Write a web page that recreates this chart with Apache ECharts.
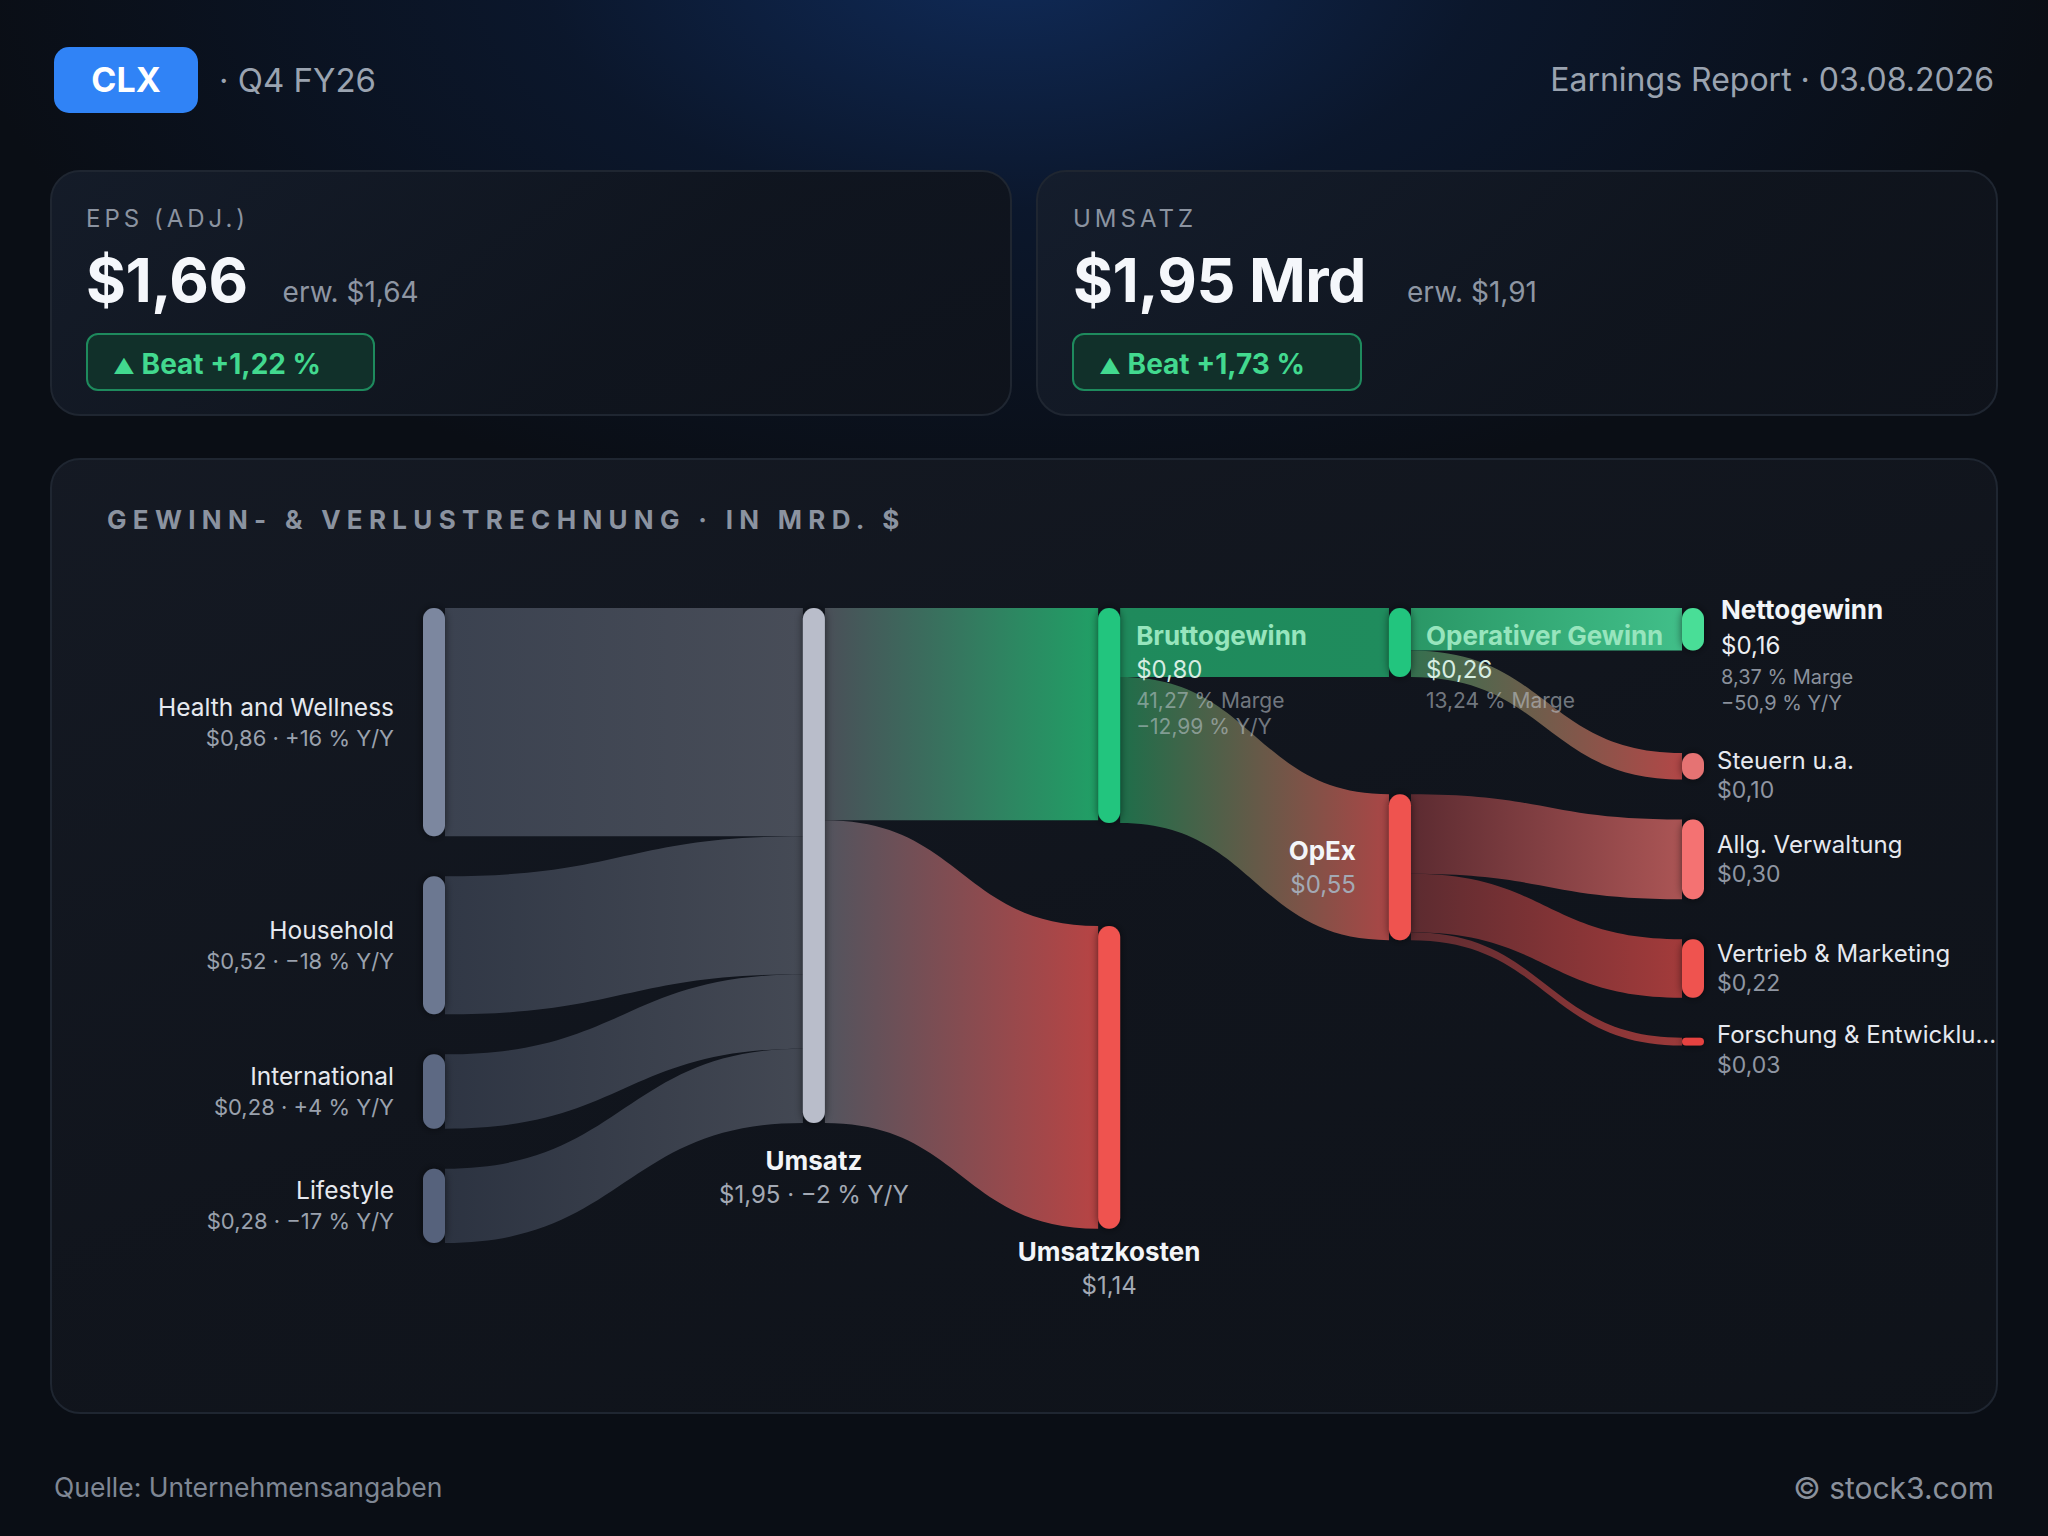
<!DOCTYPE html>
<html>
<head>
<meta charset="utf-8">
<script src="https://cdn.jsdelivr.net/npm/echarts@6/dist/echarts.min.js"></script>
<style>
  html, body { margin:0; padding:0; width:2048px; height:1536px; overflow:hidden; background:#0a0e15; }
  #page { position:relative; width:2048px; height:1536px; font-family: Inter, "Noto Sans", sans-serif;
    background: radial-gradient(ellipse 1050px 560px at 1010px -40px, rgba(16,44,92,0.95) 0%, rgba(12,30,62,0.55) 45%, rgba(10,14,21,0) 100%), #0a0e15; }
  .abs { position:absolute; line-height:1; white-space:nowrap; }
  .badge { position:absolute; left:54px; top:47px; width:144px; height:66px; border-radius:15px; background:#3083f6;
    color:#fff; font-weight:700; font-size:34px; display:flex; align-items:center; justify-content:center; line-height:1; }
  .card { position:absolute; box-sizing:border-box; border:2px solid #1f2631; border-radius:30px;
    background: linear-gradient(135deg, rgba(22,30,44,0.85) 0%, rgba(16,21,30,0.9) 60%, rgba(15,19,27,0.9) 100%); }
  .klabel { font-size:24px; letter-spacing:4px; color:#8b93a0; }
  .krow { position:absolute; display:flex; align-items:baseline; line-height:1; white-space:nowrap; }
  .kbig { font-size:61px; font-weight:700; color:#f5f7fb; letter-spacing:-0.5px; }
  .kexp { font-size:28px; color:#8e96a3; }
  .pill { position:absolute; box-sizing:border-box; height:58px; border:2px solid #1e8a5d; border-radius:12px; background:#11302a;
    color:#42d98f; font-weight:700; font-size:28px; display:flex; align-items:center; padding-left:25px; padding-top:3px; line-height:1; white-space:nowrap; }
  .tri { font-size:21px; }
  #chart { position:absolute; left:0; top:0; width:2048px; height:1536px; }
</style>
</head>
<body>
<div id="page">
  <div class="badge">CLX</div>
  <div class="abs" style="left:219px; top:64px; font-size:33px; color:#9aa3b0;">· Q4 FY26</div>
  <div class="abs" style="right:54px; top:64px; font-size:32px; color:#9aa3b0;">Earnings Report · 03.08.2026</div>

  <div class="card" style="left:50px; top:170px; width:962px; height:246px;"></div>
  <div class="abs klabel" style="left:86px; top:207px;">EPS (ADJ.)</div>
  <div class="krow" style="left:86px; top:250px;"><span class="kbig">$1,66</span><span class="kexp" style="margin-left:35px;">erw. $1,64</span></div>
  <div class="pill" style="left:86px; top:333px; width:289px;"><span><span class="tri">▲</span> Beat +1,22 %</span></div>

  <div class="card" style="left:1036px; top:170px; width:962px; height:246px;"></div>
  <div class="abs klabel" style="left:1073px; top:207px;">UMSATZ</div>
  <div class="krow" style="left:1073px; top:250px;"><span class="kbig">$1,95 Mrd</span><span class="kexp" style="margin-left:41px;">erw. $1,91</span></div>
  <div class="pill" style="left:1072px; top:333px; width:290px;"><span><span class="tri">▲</span> Beat +1,73 %</span></div>

  <div class="card" style="left:50px; top:458px; width:1948px; height:956px; background:linear-gradient(160deg, rgba(21,26,36,0.95) 0%, rgba(17,21,29,0.95) 50%, rgba(15,19,26,0.95) 100%);"></div>
  <div class="abs" style="left:107px; top:507px; font-size:26px; font-weight:700; letter-spacing:6.3px; color:#8b93a0;">GEWINN- &amp; VERLUSTRECHNUNG · IN MRD. $</div>

  <div class="abs" style="left:54px; top:1474px; font-size:26.5px; color:#7f8794;">Quelle: Unternehmensangaben</div>
  <div class="abs" style="right:54px; top:1473px; font-size:30px; color:#8a919c;">© stock3.com</div>

  <div id="chart"></div>
</div>
<script>
// ---------------- data ----------------
const nodeNames = ['Health and Wellness', 'Household', 'International', 'Lifestyle', 'Umsatz',
  'Bruttogewinn', 'Umsatzkosten', 'Operativer Gewinn', 'OpEx',
  'Nettogewinn', 'Steuern u.a.', 'Allg. Verwaltung', 'Vertrieb & Marketing', 'Forschung & Entwicklung'];
const nodeValues = [0.86, 0.52, 0.28, 0.28, 1.95, 0.80, 1.14, 0.26, 0.55, 0.16, 0.10, 0.30, 0.22, 0.03];
const nodeColumn = [0, 0, 0, 0, 1, 2, 2, 3, 3, 4, 4, 4, 4, 4];
const segmentYoY = ['+16 %', '−18 %', '+4 %', '−17 %'];
const revenueYoY = '−2 %';
const grossMargin = '41,27 %';
const grossYoY = '−12,99 %';
const opMargin = '13,24 %';
const netMargin = '8,37 %';
const netYoY = '−50,9 %';

const linkSource = ['Health and Wellness', 'Household', 'International', 'Lifestyle', 'Umsatz', 'Umsatz',
  'Bruttogewinn', 'Bruttogewinn', 'Operativer Gewinn', 'Operativer Gewinn', 'OpEx', 'OpEx', 'OpEx'];
const linkTarget = ['Umsatz', 'Umsatz', 'Umsatz', 'Umsatz', 'Bruttogewinn', 'Umsatzkosten',
  'Operativer Gewinn', 'OpEx', 'Nettogewinn', 'Steuern u.a.', 'Allg. Verwaltung', 'Vertrieb & Marketing', 'Forschung & Entwicklung'];
const linkValues = [0.86, 0.52, 0.28, 0.28, 0.80, 1.14, 0.26, 0.55, 0.16, 0.10, 0.30, 0.22, 0.03];

// ---------------- layout & styles ----------------
// column positions (sankey depth units) and invisible layout spacers (extra vertical room, in value units)
const columnPos = [0, 1.207, 2.145, 3.069, 4];
const spacerAfter = { 'Bruttogewinn': 0.087, 'Operativer Gewinn': 0.14, 'Nettogewinn': 0.085 };

const nodeColors = ['#7b879f', '#6c7891', '#5d6983', '#57627b', '#b9bdca',
  '#22c57e', '#ef5350', '#22c57e', '#ef5350',
  '#4ade97', '#e57373', '#f47272', '#ef5350', '#e5423f'];
const linkColors = [
  ['#3b4250', '#484d58'], ['#313846', '#454a55'], ['#2e3543', '#444954'], ['#2c3341', '#434853'],
  ['#4a4f58', '#20a066'], ['#52545e', '#b84444'],
  ['#1f8a5c', '#1f8c5d'], ['#1e6e4a', '#aa4646'],
  ['#2a9766', '#41bf89'], ['#35704f', '#b24747'],
  ['#5c2b31', '#ab5555'], ['#5c2b30', '#a33b3b'], ['#5c2b30', '#9c3a3a']
];
const fmt = v => '$' + v.toFixed(2).replace('.', ',');

const rich = {
  nm: { fontSize: 24.5, color: '#e6e9ef', lineHeight: 31, fontFamily: 'Inter' },
  vl: { fontSize: 22, color: '#9aa1ad', lineHeight: 31, fontFamily: 'Inter' },
  bn: { fontSize: 26, fontWeight: 700, color: '#f3f5f8', lineHeight: 34, fontFamily: 'Inter' },
  bv: { fontSize: 24, color: '#a3a9b4', lineHeight: 34, fontFamily: 'Inter' },
  gn: { fontSize: 26, fontWeight: 700, color: '#97e5bd', lineHeight: 32, fontFamily: 'Inter' },
  gv: { fontSize: 24, color: '#d6ede2', lineHeight: 36, fontFamily: 'Inter' },
  gs: { fontSize: 21, color: 'rgba(196,204,212,0.55)', lineHeight: 26, fontFamily: 'Inter' },
  wn: { fontSize: 26, fontWeight: 700, color: '#f3f5f8', lineHeight: 34, fontFamily: 'Inter' },
  wv: { fontSize: 24, color: '#eceef2', lineHeight: 38, fontFamily: 'Inter' },
  ws: { fontSize: 20, color: '#8a919c', lineHeight: 26, fontFamily: 'Inter' },
  rn: { fontSize: 24, color: '#e6e9ef', lineHeight: 30, fontFamily: 'Inter' },
  rv: { fontSize: 23, color: '#8f96a2', lineHeight: 30, fontFamily: 'Inter' }
};

function labelFor(i) {
  const n = nodeNames[i], v = fmt(nodeValues[i]);
  if (i <= 3) return { position: 'left', distance: 29, align: 'right',
    formatter: `{nm|${n}}\n{vl|${v} · ${segmentYoY[i]} Y/Y}` };
  if (n === 'Umsatz') return { position: 'bottom', distance: 20, align: 'center',
    formatter: `{bn|${n}}\n{bv|${v} · ${revenueYoY} Y/Y}` };
  if (n === 'Umsatzkosten') return { position: 'bottom', distance: 6, align: 'center',
    formatter: `{bn|${n}}\n{bv|${v}}` };
  if (n === 'Bruttogewinn') return { position: [38, 11], align: 'left', verticalAlign: 'top',
    formatter: `{gn|${n}}\n{gv|${v}}\n{gs|${grossMargin} Marge}\n{gs|${grossYoY} Y/Y}` };
  if (n === 'Operativer Gewinn') return { position: [37, 11], align: 'left', verticalAlign: 'top',
    formatter: `{gn|${n}}\n{gv|${v}}\n{gs|${opMargin} Marge}` };
  if (n === 'OpEx') return { position: 'left', distance: 33, align: 'right',
    formatter: `{bn|${n}}\n{bv|${v}}` };
  if (n === 'Nettogewinn') return { position: [39, -16], align: 'left', verticalAlign: 'top',
    formatter: `{wn|${n}}\n{wv|${v}}\n{ws|${netMargin} Marge}\n{ws|${netYoY} Y/Y}` };
  const o = { position: 'right', distance: 13, align: 'left', formatter: `{rn|${n}}\n{rv|${v}}` };
  if (n === 'Steuern u.a.') o.offset = [0, 9];
  if (n === 'Forschung & Entwicklung') { o.offset = [0, 8]; o.width = 287; o.overflow = 'truncate'; o.ellipsis = '...'; }
  return o;
}

const nodes = [];
nodeNames.forEach((n, i) => {
  nodes.push({
    name: n,
    depth: columnPos[nodeColumn[i]],
    itemStyle: { color: nodeColors[i], borderRadius: 11, shadowBlur: 8, shadowColor: 'rgba(0,0,0,0.55)' },
    label: Object.assign({ show: true, rich: rich }, labelFor(i))
  });
  if (spacerAfter[n] != null) {
    nodes.push({
      name: '\u200b' + n, value: spacerAfter[n], depth: columnPos[nodeColumn[i]],
      itemStyle: { color: 'rgba(0,0,0,0)', opacity: 0, shadowBlur: 0 },
      label: { show: false }, tooltip: { show: false }
    });
  }
});

const links = linkValues.map((v, i) => ({
  source: linkSource[i], target: linkTarget[i], value: v,
  lineStyle: { color: { type: 'linear', x: 0, y: 0, x2: 1, y2: 0,
    colorStops: [{ offset: 0, color: linkColors[i][0] }, { offset: 1, color: linkColors[i][1] }] } }
}));

const chart = echarts.init(document.getElementById('chart'), null, { renderer: 'svg', width: 2048, height: 1536 });
chart.setOption({
  backgroundColor: 'transparent',
  animation: false,
  series: [{
    type: 'sankey',
    left: 423, top: 608, width: 1281, height: 635,
    nodeWidth: 22, nodeGap: 40, nodeAlign: 'left', layoutIterations: 0,
    draggable: false,
    emphasis: { disabled: true },
    lineStyle: { curveness: 0.5, opacity: 1 },
    label: { fontFamily: 'Inter' },
    data: nodes,
    links: links
  }]
});
</script>
</body>
</html>
